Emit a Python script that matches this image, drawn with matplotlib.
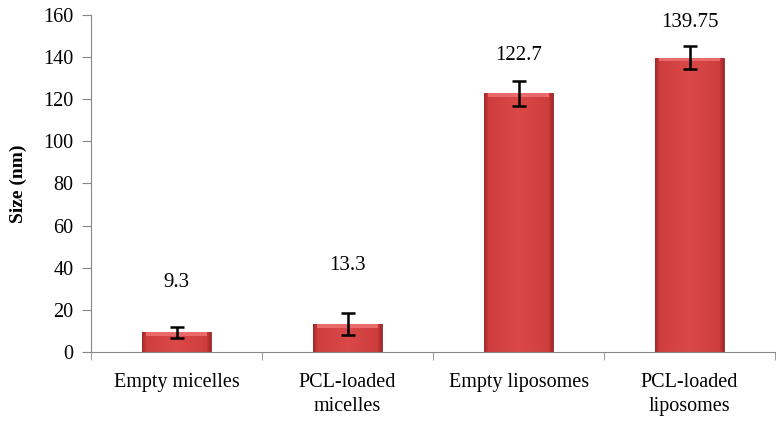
import numpy as np
import matplotlib
matplotlib.use('Agg')
import matplotlib.pyplot as plt
from matplotlib.colors import LinearSegmentedColormap

# data
categories = ['Empty micelles', 'PCL-loaded\nmicelles', 'Empty liposomes', 'PCL-loaded\nliposomes']
sizes = [9.3, 13.3, 122.7, 139.75]
errors = [2.6, 5.2, 6.0, 5.6]
labels = ['9.3', '13.3', '122.7', '139.75']
label_y = [33, 41, 140.5, 156.5]   # where the value labels sit

plt.rcParams['font.family'] = 'Liberation Serif'

fig = plt.figure(figsize=(7.81, 4.24), dpi=100)
ax = fig.add_axes([0.1165, 0.17, 0.876, 0.795])

x = np.arange(len(categories))
bars = ax.bar(x, sizes, width=0.4, color='#d64444', edgecolor='#9a2626', linewidth=0.6, zorder=2)

# horizontal shading on each bar, darker only near the sides
cmap = LinearSegmentedColormap.from_list(
    'bar', [(0, '#a12828'), (0.07, '#cf3e3e'), (0.5, '#da4848'), (0.93, '#cf3e3e'), (1, '#a12828')])
grad = np.linspace(0, 1, 256).reshape(1, -1)
for b in bars:
    bx, by = b.get_x(), b.get_y()
    w, h = b.get_width(), b.get_height()
    im = ax.imshow(grad, cmap=cmap, aspect='auto', extent=[bx, bx + w, by, by + h], zorder=2.5)
    im.set_clip_path(b)
    # lighter bevel at the top
    ax.fill_between([bx + w * 0.05, bx + w * 0.95], by + h - 1.8, by + h, color='#e86a6a', zorder=2.6, lw=0)

ax.errorbar(x, sizes, yerr=errors, fmt='none', ecolor='black', elinewidth=1.8, capsize=5, capthick=1.8, zorder=3)

for i in range(len(x)):
    ax.text(x[i], label_y[i], labels[i], ha='center', va='center', fontsize=15)

ax.set_xlim(-0.5, 3.5)
ax.set_ylim(0, 160)
ax.set_yticks(np.arange(0, 161, 20))
ax.set_xticks(x)
ax.set_xticklabels(categories, fontsize=14.5, linespacing=1.35)
ax.set_xticks([-0.5, 0.5, 1.5, 2.5, 3.5], minor=True)
ax.tick_params(axis='x', which='major', length=0, pad=15)
ax.tick_params(axis='x', which='minor', length=6, color='#868686', direction='out')
ax.tick_params(axis='y', length=6.5, color='#868686', labelsize=14.5, direction='out', pad=6)
ax.set_ylabel('Size (nm)', fontsize=14, fontweight='bold', labelpad=12)

for s in ['top', 'right']:
    ax.spines[s].set_visible(False)
for s in ['left', 'bottom']:
    ax.spines[s].set_color('#868686')

plt.savefig('out.png', dpi=100)
